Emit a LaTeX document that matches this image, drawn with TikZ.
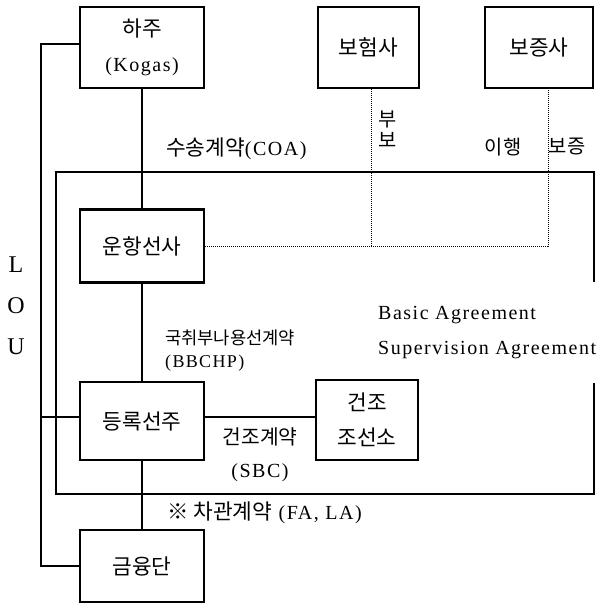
\documentclass[tikz,border=0pt]{standalone}
\usepackage{fontspec}
\setmainfont{Liberation Serif}[LetterSpace=7.5]
\newfontfamily\kr{Noto Sans CJK KR}[Scale=1.07]
\begin{document}
\begin{tikzpicture}[x=1pt,y=-1pt,
 box/.style={draw, line width=2.5pt, inner sep=0pt, align=center, font=\fontsize{20}{35}\selectfont},
 ln/.style={line width=1.2pt},
 dt/.style={line width=1pt, densely dotted},
 lbl/.style={inner sep=0pt, anchor=west, font=\fontsize{20}{24}\selectfont},
 clbl/.style={inner sep=0pt, font=\fontsize{20}{24}\selectfont},
 lou/.style={inner sep=0pt, font=\fontsize{24}{28}\selectfont}]
\useasboundingbox (0,0) rectangle (597,604);
% boxes
\node[box, minimum width=124pt, minimum height=81pt] (hj) at (142,47.5) {{\kr 하주}\\(Kogas)};
\node[box, minimum width=101pt, minimum height=81pt] (bh) at (368.5,47.5) {\kr 보험사};
\node[box, minimum width=108pt, minimum height=81pt] (bj) at (539,47.5) {\kr 보증사};
\node[box, minimum width=124pt, minimum height=73pt] (uh) at (142,246) {\kr 운항선사};
\node[box, minimum width=124pt, minimum height=78pt] (dr) at (142,421) {\kr 등록선주};
\node[box, minimum width=102pt, minimum height=80pt] (gj) at (367,420) {{\kr 건조}\\{\kr 조선소}};
\node[box, minimum width=124pt, minimum height=72pt] (gy) at (142,566) {\kr 금융단};
% inner frame
\draw[ln] (594,282) -- (594,172) -- (56,172) -- (56,494) -- (594,494) -- (594,383);
% main connectors
\draw[ln] (hj.south) -- (uh.north);
\draw[ln] (uh.south) -- (dr.north);
\draw[ln] (dr.south) -- (gy.north);
\draw[ln] ([yshift=4pt]dr.east) -- ([yshift=4pt]dr.east -| gj.west);
% LOU line
\coordinate (lt) at (41,44);
\coordinate (lb) at (41,566);
\coordinate (lm) at (41,417);
\draw[ln] ([yshift=3.5pt]hj.west) -- (lt) -- (lb) -- (gy.west);
\draw[ln] (lm) -- ([yshift=4pt]dr.west);
% dotted
\coordinate (dend) at (548,246);
\draw[dt] (uh.east) -- (dend) -- ([xshift=9pt]bj.south);
\draw[dt] ([xshift=3pt]bh.south) -- ([xshift=3pt]bh.south |- uh.east);
% labels
\node[lbl] (coa) at (166,149) {{\kr 수송계약}(COA)};
\node[clbl, align=center, font=\fontsize{18.5}{21}\selectfont] (bubo) at (388,129) {{\kr 부}\\{\kr 보}};
\node[clbl, font=\fontsize{18.5}{24}\selectfont] (ih) at (503,147) {\kr 이행};
\node[clbl, font=\fontsize{18.5}{24}\selectfont] (bz) at (567,147) {\kr 보증};
\node[lou] (L) at (16,265) {L};
\node[lou] (O) at (16,306) {O};
\node[lou] (U) at (16,347) {U};
\node[lbl, font=\fontsize{16.5}{24}\selectfont] (bb1) at (165,338) {\kr 국취부나용선계약};
\node[lbl, font=\fontsize{18}{24}\selectfont] (bb2) at (165,363) {(BBCHP)};
\node[lbl] (ba) at (378,315) {Basic Agreement};
\node[lbl] (sa) at (378,350) {Supervision Agreement};
\node[clbl, font=\fontsize{19}{24}\selectfont] (sbc1) at (260,437) {\kr 건조계약};
\node[clbl] (sbc2) at (260,473) {(SBC)};
\node[lbl] (fa) at (167,513) {{\kr ※ 차관계약} (FA, LA)};
\end{tikzpicture}
\end{document}
